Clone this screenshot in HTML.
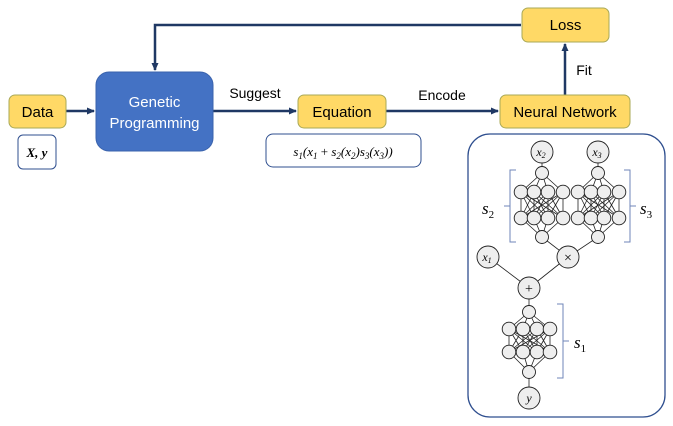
<!DOCTYPE html>
<html><head><meta charset="utf-8"><style>
body{margin:0;background:#fff;}
svg{display:block;font-family:"Liberation Sans",sans-serif;}
</style></head><body>
<svg id="s" width="673" height="426" viewBox="0 0 673 426" xmlns="http://www.w3.org/2000/svg">
<defs><marker id="a" markerWidth="8" markerHeight="8" refX="7" refY="4" orient="auto" markerUnits="userSpaceOnUse"><path d="M0,0.5 L8,4 L0,7.5z" fill="#1f3864"/></marker></defs>
<g stroke="#1f3864" stroke-width="2.5" fill="none">
<path d="M521,25 H155 V70" marker-end="url(#a)"/>
<path d="M66,111 H94" marker-end="url(#a)"/>
<path d="M213,111 H296" marker-end="url(#a)"/>
<path d="M386,111 H498" marker-end="url(#a)"/>
<path d="M565,95 V44" marker-end="url(#a)"/>
</g>
<rect x="9" y="95" width="57" height="33" rx="6" fill="#ffd966" stroke="#a9a957" stroke-width="1"/>
<text x="37.5" y="117" font-size="15" text-anchor="middle">Data</text>
<rect x="18" y="135" width="38" height="34" rx="5" fill="#fff" stroke="#2f4f8f" stroke-width="1"/>
<text x="37" y="157" font-size="13" font-weight="bold" font-style="italic" font-family="Liberation Serif" text-anchor="middle">X, y</text>
<rect x="96" y="72" width="117" height="79" rx="13" fill="#4472c4" stroke="#3a63ad" stroke-width="1"/>
<text x="154.5" y="107" font-size="15" fill="#fff" text-anchor="middle">Genetic</text>
<text x="154.5" y="128" font-size="15" fill="#fff" text-anchor="middle">Programming</text>
<text x="255" y="98" font-size="14" text-anchor="middle">Suggest</text>
<rect x="298" y="95" width="88" height="33" rx="6" fill="#ffd966" stroke="#a9a957" stroke-width="1"/>
<text x="342" y="117" font-size="15" text-anchor="middle">Equation</text>
<rect x="266" y="134" width="155" height="33" rx="7" fill="#fff" stroke="#2f4f8f" stroke-width="1"/>
<text x="343" y="156" font-size="13" font-style="italic" font-family="Liberation Serif" text-anchor="middle">s<tspan font-size="9" dy="3">1</tspan><tspan dy="-3">(x</tspan><tspan font-size="9" dy="3">1</tspan><tspan dy="-3" font-style="normal"> + </tspan><tspan>s</tspan><tspan font-size="9" dy="3">2</tspan><tspan dy="-3">(x</tspan><tspan font-size="9" dy="3">2</tspan><tspan dy="-3">)s</tspan><tspan font-size="9" dy="3">3</tspan><tspan dy="-3">(x</tspan><tspan font-size="9" dy="3">3</tspan><tspan dy="-3">))</tspan></text>
<text x="442" y="100" font-size="14" text-anchor="middle">Encode</text>
<rect x="500" y="95" width="130" height="33" rx="6" fill="#ffd966" stroke="#a9a957" stroke-width="1"/>
<text x="565" y="117" font-size="15" text-anchor="middle">Neural Network</text>
<rect x="522" y="8" width="87" height="34" rx="6" fill="#ffd966" stroke="#a9a957" stroke-width="1"/>
<text x="565.5" y="30" font-size="15" text-anchor="middle">Loss</text>
<text x="584" y="75" font-size="14" text-anchor="middle">Fit</text>
<rect x="468" y="134" width="197" height="283" rx="22" fill="#fff" stroke="#2f4f8f" stroke-width="1.3"/>
<g id="lines" stroke="#222" stroke-width="0.8"></g>
<g id="nodes" stroke="#222" stroke-width="0.9" fill="#eee"></g>
<g stroke="#6f86b8" stroke-width="1" fill="none">
<path d="M516,170 H510 V242 H516 M510,206 H504"/>
<path d="M624,170 H630 V242 H624 M630,206 H636"/>
<path d="M557,304 H563 V378 H557 M563,341 H569"/>
</g>
<g font-family="Liberation Serif" font-style="italic" font-size="17">
<text x="482" y="214">s<tspan font-size="11" dy="4" font-style="normal">2</tspan></text>
<text x="640" y="214">s<tspan font-size="11" dy="4" font-style="normal">3</tspan></text>
<text x="574" y="348">s<tspan font-size="11" dy="4" font-style="normal">1</tspan></text>
</g>
<g font-family="Liberation Serif" font-style="italic" font-size="12" text-anchor="middle">
<text x="541" y="156">x<tspan font-size="8" dy="2">2</tspan></text>
<text x="597" y="156">x<tspan font-size="8" dy="2">3</tspan></text>
<text x="487" y="261">x<tspan font-size="8" dy="2">1</tspan></text>
<text x="529" y="402">y</text>
<text x="568" y="262" font-style="normal" font-size="14">×</text>
<text x="529" y="293" font-style="normal" font-size="14">+</text>
</g>
</svg>
<script>
var L=document.getElementById('lines'),N=document.getElementById('nodes'),ns='http://www.w3.org/2000/svg';
function ln(a,b,c,d){var e=document.createElementNS(ns,'line');e.setAttribute('x1',a);e.setAttribute('y1',b);e.setAttribute('x2',c);e.setAttribute('y2',d);L.appendChild(e);}
function ci(x,y,r){var e=document.createElementNS(ns,'circle');e.setAttribute('cx',x);e.setAttribute('cy',y);e.setAttribute('r',r);N.appendChild(e);}
function net(cx,xs,yt,y1,y2,yb){xs.forEach(function(a){ln(cx,yt,a,y1);ln(a,y2,cx,yb);xs.forEach(function(b){ln(a,y1,b,y2);});});
ci(cx,yt,6.5);ci(cx,yb,6.5);xs.forEach(function(a){ci(a,y1,6.8);ci(a,y2,6.8);});}
ln(542,152,542,173);ln(598,152,598,173);
ln(542,237,568,257);ln(598,237,568,257);
ln(488,257,529,288);ln(568,257,529,288);
ln(529,288,529,312);ln(529,372,529,398);
net(542,[521,534,548,563],173,192,218,237);
net(598,[578,591,604,619],173,192,218,237);
net(529,[509,523,537,550],312,329,352,372);
ci(542,152,11);ci(598,152,11);ci(488,257,11);ci(568,257,11);ci(529,288,11);ci(529,398,11);
</script>
</body></html>
